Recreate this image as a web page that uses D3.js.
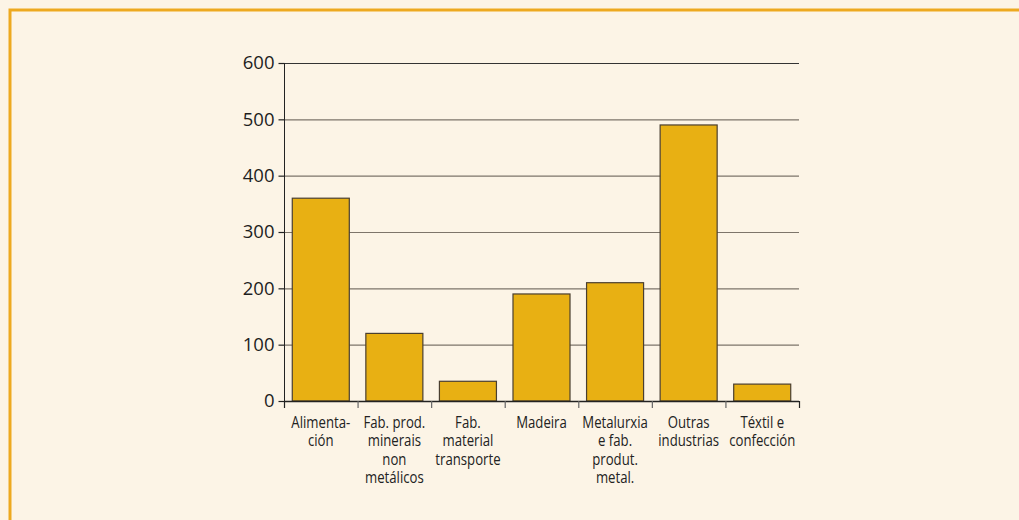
<!DOCTYPE html>
<html>
<head>
<meta charset="utf-8">
<script src="https://cdn.jsdelivr.net/npm/d3@7"></script>
<style>
  body { margin: 0; background: #fcf4e6; }
  svg { display: block; }
</style>
</head>
<body>
<svg width="1019" height="520"></svg>
<script>
const categories = [
  ["Alimenta-", "ción"],
  ["Fab. prod.", "minerais", "non", "metálicos"],
  ["Fab.", "material", "transporte"],
  ["Madeira"],
  ["Metalurxia", "e fab.", "produt.", "metal."],
  ["Outras", "industrias"],
  ["Téxtil e", "confección"]
];
const values = [360, 120, 35, 190, 210, 490, 30];
const yTicks = [0, 100, 200, 300, 400, 500, 600];

const svg = d3.select("svg");
const width = parseInt(svg.attr("width"));
const height = parseInt(svg.attr("height"));

// background + orange frame
svg.append("rect").attr("width", width).attr("height", height).attr("fill", "#fcf4e6");
svg.append("path")
  .attr("d", `M10,${height} V10 H${width}`)
  .attr("fill", "none")
  .attr("stroke", "#eda920")
  .attr("stroke-width", 3);

const plotLeft = 284, plotRight = 799, plotTop = 63, plotBottom = 401;

const x = d3.scaleBand()
  .domain(d3.range(categories.length))
  .range([plotLeft, plotRight])
  .paddingInner(0.225)
  .paddingOuter(0.1125);

const xEdges = d3.scaleLinear()
  .domain([0, categories.length])
  .range([plotLeft, plotRight]);

const y = d3.scaleLinear().domain([0, 600]).range([plotBottom, plotTop]);

// gridlines
svg.append("g")
  .selectAll("line")
  .data(yTicks.filter(d => d > 0))
  .join("line")
  .attr("x1", plotLeft)
  .attr("x2", plotRight)
  .attr("y1", d => y(d) + 0.5)
  .attr("y2", d => y(d) + 0.5)
  .attr("stroke", d => d === 600 ? "#333" : "#7d756a")
  .attr("stroke-width", 1.2);

// bars
svg.append("g")
  .selectAll("rect")
  .data(values)
  .join("rect")
  .attr("x", (d, i) => x(i))
  .attr("y", d => y(d))
  .attr("width", x.bandwidth())
  .attr("height", d => plotBottom - y(d))
  .attr("fill", "#e8b013")
  .attr("stroke", "#4a3f30")
  .attr("stroke-width", 1.2);

// y axis
const yAxis = svg.append("g")
  .attr("transform", `translate(${plotLeft + 0.5},0)`)
  .call(d3.axisLeft(y).tickValues(yTicks).tickSize(6).tickPadding(4));
yAxis.select(".domain").attr("stroke", "#222").attr("d", `M0,${plotTop}V${plotBottom}`);
yAxis.selectAll(".tick line").attr("stroke", "#222").attr("stroke-width", 1.2);
yAxis.selectAll(".tick text")
  .attr("fill", "#1e1e1e")
  .style("font-family", "'Open Sans', 'Noto Sans', sans-serif")
  .style("font-size", "18.5px")
  .style("font-weight", "500");

// x axis baseline + tick marks at band edges
const xAxis = svg.append("g");
xAxis.append("line")
  .attr("x1", plotLeft).attr("x2", plotRight)
  .attr("y1", plotBottom + 0.5).attr("y2", plotBottom + 0.5)
  .attr("stroke", "#222").attr("stroke-width", 1.4);
xAxis.selectAll(".edge")
  .data(d3.range(categories.length + 1))
  .join("line")
  .attr("class", "edge")
  .attr("x1", d => xEdges(d) + 0.5)
  .attr("x2", d => xEdges(d) + 0.5)
  .attr("y1", plotBottom)
  .attr("y2", plotBottom + 7)
  .attr("stroke", d => (d === 0 || d === categories.length) ? "#222" : "#666")
  .attr("stroke-width", 1.2);

// category labels (horizontally condensed)
const labels = xAxis.selectAll(".cat")
  .data(categories)
  .join("g")
  .attr("class", "cat")
  .attr("transform", (d, i) => `translate(${x(i) + x.bandwidth() / 2},0) scale(0.85,1)`)
  .append("text")
  .attr("text-anchor", "middle")
  .attr("fill", "#222")
  .style("font-family", "'Open Sans', 'Noto Sans', sans-serif")
  .style("font-size", "15.5px");
labels.selectAll("tspan")
  .data(d => d)
  .join("tspan")
  .attr("x", 0)
  .attr("y", (d, j) => 428 + j * 18.5)
  .text(d => d);
</script>
</body>
</html>
